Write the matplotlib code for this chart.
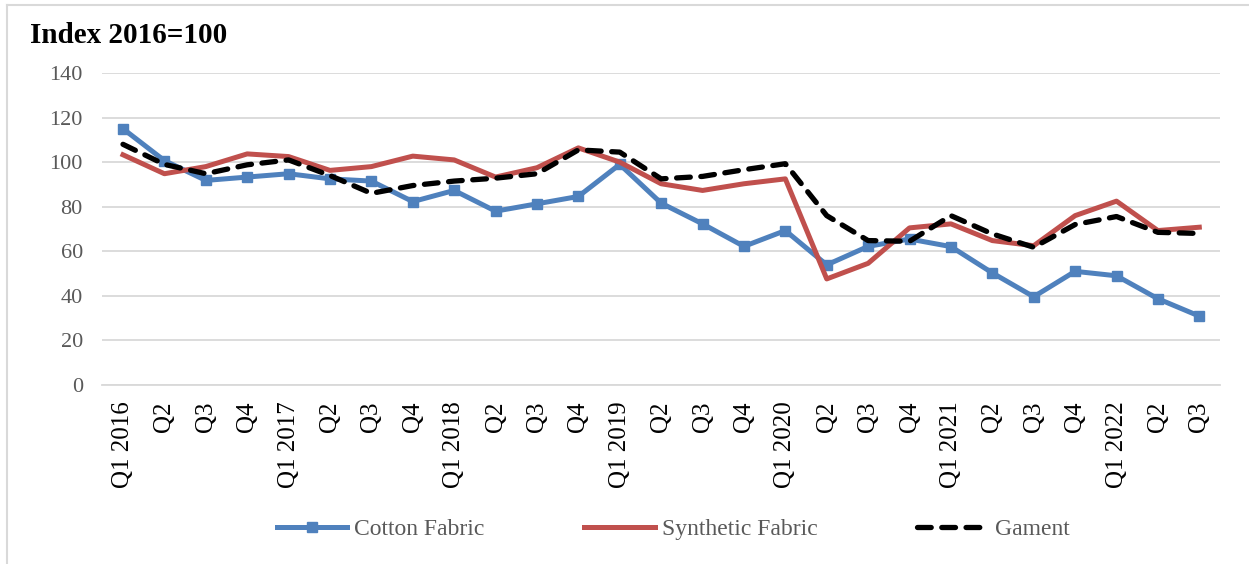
import matplotlib
matplotlib.use("Agg")
import matplotlib.pyplot as plt
from matplotlib.lines import Line2D

quarters = ["Q1 2016", "Q2", "Q3", "Q4",
            "Q1 2017", "Q2", "Q3", "Q4",
            "Q1 2018", "Q2", "Q3", "Q4",
            "Q1 2019", "Q2", "Q3", "Q4",
            "Q1 2020", "Q2", "Q3", "Q4",
            "Q1 2021", "Q2", "Q3", "Q4",
            "Q1 2022", "Q2", "Q3"]

cotton = [115.0, 100.7, 91.8, 93.3, 94.8, 92.5, 91.5, 82.3, 87.3, 78.0,
          81.3, 84.6, 99.0, 81.6, 72.3, 62.2, 69.3, 53.9, 62.2, 65.5,
          62.1, 50.3, 39.6, 51.0, 49.0, 38.7, 30.9]
synthetic = [103.3, 94.8, 98.0, 103.7, 102.5, 96.3, 98.0, 102.7, 101.0, 93.3,
             97.5, 106.4, 100.0, 90.3, 87.3, 90.3, 92.5, 47.6, 54.6, 70.5,
             72.3, 64.8, 62.5, 76.0, 82.5, 69.3, 70.8]
garment = [108.0, 99.0, 94.8, 98.8, 101.0, 94.0, 86.0, 89.5, 91.5, 92.8,
           94.8, 105.5, 104.5, 92.5, 93.6, 96.6, 99.3, 76.0, 64.8, 64.5,
           76.0, 67.8, 61.8, 72.0, 75.6, 68.5, 68.0]

series_names = ["Cotton Fabric", "Synthetic Fabric", "Gament"]
y_ticks = [0, 20, 40, 60, 80, 100, 120, 140]

plt.rcParams['font.family'] = ['Liberation Serif', 'DejaVu Serif']

W, H = 1249, 564
fig = plt.figure(figsize=(W / 100, H / 100), dpi=100)
ax = fig.add_axes([102.3 / W, 1 - 385 / H, (1220 - 102.3) / W, (385 - 73) / H])

x = list(range(len(quarters)))
ax.plot(x, cotton, color="#4F81BD", lw=3.6, marker="s", ms=6.5,
        label=series_names[0], solid_joinstyle="round", zorder=3)
ax.plot(x, synthetic, color="#C0504D", lw=3.6,
        label=series_names[1], solid_joinstyle="round", zorder=3)
ax.plot(x, garment, color="black", lw=3.8, dashes=(2.6, 2.0),
        dash_capstyle="round", label=series_names[2], zorder=4)

ax.set_xlim(-0.5, len(quarters) - 0.5)
ax.set_ylim(0, 140)
ax.set_yticks(y_ticks)
ax.set_xticks(x)
ax.set_xticklabels(quarters, rotation=90, fontsize=18, color="black", va="top")
ax.tick_params(axis="x", length=0, pad=12)
ax.tick_params(axis="y", length=0, pad=14, labelsize=16, labelcolor="#595959")
ax.grid(axis="y", color="#D9D9D9", lw=1.3)
ax.set_axisbelow(True)
for s in ["top", "right", "left"]:
    ax.spines[s].set_visible(False)
ax.spines["bottom"].set_color("#D9D9D9")
ax.spines["bottom"].set_linewidth(1.3)

fig.text(30 / W, 1 - 43 / H, "Index 2016=100", fontsize=21, fontweight="bold",
         va="baseline", ha="left")

fig.legend(loc="center", bbox_to_anchor=(673 / W, 1 - 529 / H), ncol=3,
           frameon=False, fontsize=17, handlelength=3.0, handletextpad=0.3,
           columnspacing=4.2, labelcolor="#595959")

# outer frame (light grey)
fig.add_artist(Line2D([7 / W, 1.0], [1 - 5 / H, 1 - 5 / H], color="#D9D9D9", lw=1.5,
                      transform=fig.transFigure))
fig.add_artist(Line2D([7 / W, 7 / W], [0.0, 1 - 5 / H], color="#D9D9D9", lw=1.5,
                      transform=fig.transFigure))

fig.savefig("out.png", dpi=100, facecolor="white")
